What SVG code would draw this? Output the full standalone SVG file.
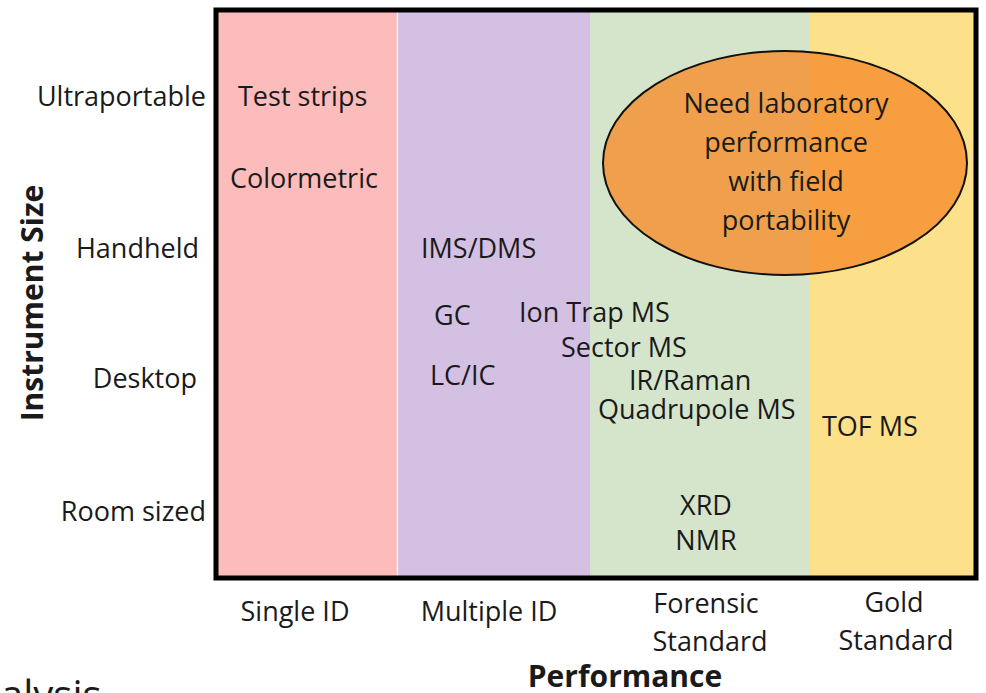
<svg xmlns="http://www.w3.org/2000/svg" width="986" height="693" viewBox="0 0 986 693">
<style>
text{font-family:"Open Sans","Liberation Sans",sans-serif;fill:#1a1a1a;font-size:27px}
.r{text-anchor:end}
.c{text-anchor:middle}
.b{font-weight:bold;font-size:30px}
</style>
<rect width="986" height="693" fill="#ffffff"/>
<g id="columns">
<rect x="216" y="10" width="181" height="568" fill="#fcbcbc"/>
<rect x="397" y="10" width="193" height="568" fill="#d3c0e2"/>
<rect x="590" y="10" width="219" height="568" fill="#d5e5cc"/>
<rect x="809" y="10" width="167" height="568" fill="#fde08a"/>
<line x1="397.5" y1="10" x2="397.5" y2="578" stroke="#f4eef4" stroke-width="1.5"/>
</g>
<g id="frame"><rect x="216" y="10" width="760" height="568" fill="none" stroke="#000" stroke-width="5"/></g>
<g id="ellipse">
<ellipse cx="785" cy="163" rx="182" ry="112" fill="#f5902f" fill-opacity="0.82" stroke="#111" stroke-width="2"/>
<text class="c" x="786" y="113">Need laboratory</text>
<text class="c" x="786" y="152">performance</text>
<text class="c" x="786" y="191">with field</text>
<text class="c" x="786" y="230">portability</text>
</g>
<g id="y-axis">
<text class="r" x="206" y="106">Ultraportable</text>
<text class="r" x="199" y="258">Handheld</text>
<text class="r" x="197" y="388">Desktop</text>
<text class="r" x="206" y="521">Room sized</text>
<text class="c b" transform="translate(43,303) rotate(-90)">Instrument Size</text>
</g>
<g id="items">
<text x="238" y="106">Test strips</text>
<text x="230" y="188">Colormetric</text>
<text x="421" y="258">IMS/DMS</text>
<text x="434" y="325">GC</text>
<text x="430" y="385">LC/IC</text>
<text x="519" y="322">Ion Trap MS</text>
<text x="561" y="357">Sector MS</text>
<text x="629" y="390">IR/Raman</text>
<text x="598" y="419">Quadrupole MS</text>
<text x="822" y="436">TOF MS</text>
<text class="c" x="706" y="515">XRD</text>
<text class="c" x="706" y="550">NMR</text>
</g>
<g id="x-axis">
<text class="c" x="295" y="621">Single ID</text>
<text class="c" x="489" y="621">Multiple ID</text>
<text class="c" x="706" y="613">Forensic</text>
<text class="c" x="710" y="651">Standard</text>
<text class="c" x="894" y="612">Gold</text>
<text class="c" x="896" y="650">Standard</text>
<text class="c b" x="625" y="687">Performance</text>
</g>
<text x="1" y="709" style="font-size:40px">alysis</text>
</svg>
